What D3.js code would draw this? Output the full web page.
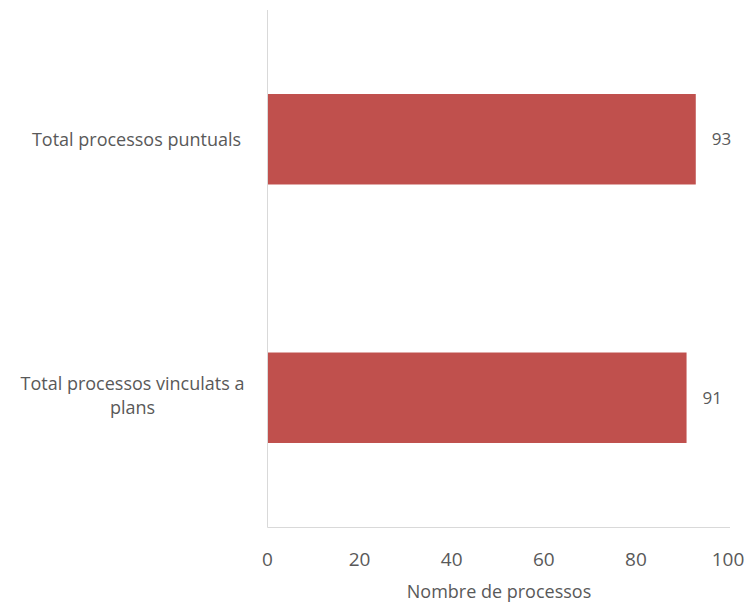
<!DOCTYPE html>
<html><head><meta charset="utf-8">
<script src="https://cdn.jsdelivr.net/npm/d3@7"></script>
<style>body{margin:0;background:#fff}svg{display:block}text{font-family:"Open Sans",sans-serif;fill:#595959}</style>
</head><body>
<svg id="c" width="751" height="605"></svg>
<script>
const categories = ["Total processos puntuals", "Total processos vinculats a plans"];
const values = [93, 91];
const xTicks = [0, 20, 40, 60, 80, 100];
const xTitle = "Nombre de processos";

const svg = d3.select("#c");
const x = d3.scaleLinear().domain([0, 100]).range([267.5, 728]);
const y = d3.scaleBand().domain(categories).range([10, 527]).paddingInner(0.65).paddingOuter(0.325);

// axes lines
svg.append("line").attr("x1", x(0)).attr("x2", 730).attr("y1", 527.5).attr("y2", 527.5).attr("stroke", "#d9d9d9").attr("stroke-width", 1);
svg.append("line").attr("x1", x(0)).attr("x2", x(0)).attr("y1", 10).attr("y2", 527.5).attr("stroke", "#d9d9d9").attr("stroke-width", 1);

// bars
svg.selectAll("rect.bar").data(categories).enter().append("rect")
  .attr("x", x(0) + 0.5).attr("y", d => y(d))
  .attr("width", (d, i) => x(values[i]) - x(0) - 0.5)
  .attr("height", y.bandwidth()).attr("fill", "#C0504D");

// value labels
svg.selectAll("text.val").data(categories).enter().append("text")
  .attr("x", (d, i) => x(values[i]) + 16).attr("y", d => y(d) + y.bandwidth() / 2)
  .attr("dy", "0.35em").attr("font-size", 17).text((d, i) => values[i]);

// category labels
const wraps = [["Total processos puntuals"], ["Total processos vinculats a", "plans"]];
categories.forEach((c, i) => {
  const lines = wraps[i];
  const cy = y(c) + y.bandwidth() / 2 + (lines.length > 1 ? -2 : 0);
  const t = svg.append("text").attr("font-size", 18).attr("text-anchor", "middle");
  lines.forEach((l, j) => {
    t.append("tspan").attr("x", lines.length > 1 ? 132.5 : 136.5)
      .attr("y", cy + (j - (lines.length - 1) / 2) * 24).attr("dy", "0.35em").text(l);
  });
});

// x tick labels
svg.selectAll("text.tick").data(xTicks).enter().append("text")
  .attr("x", d => x(d)).attr("y", 559).attr("dy", "0.35em")
  .attr("text-anchor", "middle").attr("font-size", 19).text(d => d);

svg.append("text").attr("x", 499).attr("y", 592).attr("dy", "0.35em")
  .attr("text-anchor", "middle").attr("font-size", 18).text(xTitle);
</script>
</body></html>
